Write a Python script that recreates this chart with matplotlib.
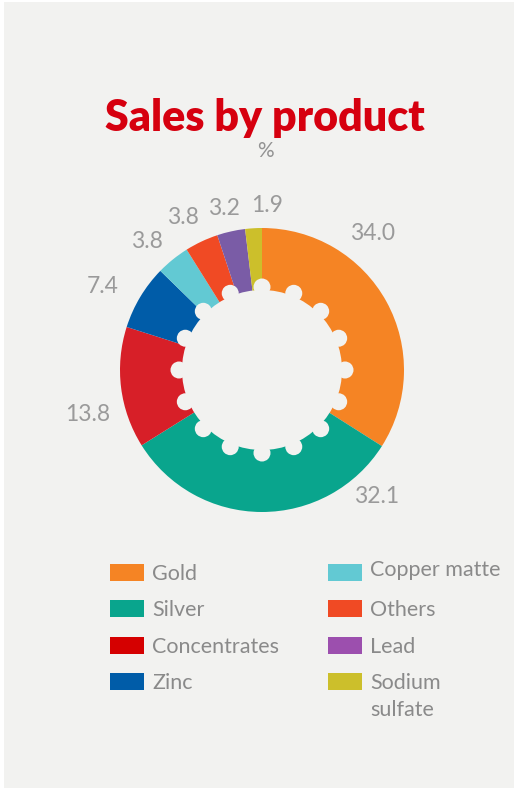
import numpy as np
import matplotlib.pyplot as plt
from matplotlib.patches import Circle, Rectangle

W, H = 514, 788

products = ['Gold', 'Silver', 'Concentrates', 'Zinc',
            'Copper matte', 'Others', 'Lead', 'Sodium sulfate']
shares = [34.0, 32.1, 13.8, 7.4, 3.8, 3.8, 3.2, 1.9]
value_labels = ['34.0', '32.1', '13.8', '7.4', '3.8', '3.8', '3.2', '1.9']

pie_colors = ['#F58424', '#09A58D', '#D71F28', '#005CA8',
              '#62C9D3', '#F04A24', '#7A5CA6', '#CCBF2B']
legend_colors = ['#F58424', '#09A58D', '#D50000', '#005CA8',
                 '#62C9D3', '#F04A24', '#9C4FAE', '#CCBF2B']

# where the value labels sit (pixels, from top-left)
label_pos = [(373, 233), (377, 496), (88, 414), (103, 286),
             (147, 241), (183, 217), (224, 208), (267, 205)]

BG = '#F2F2F0'
GREY = '#9A9A9A'
plt.rcParams['font.family'] = ['Lato', 'DejaVu Sans']


def py(y):
    return H - y


fig = plt.figure(figsize=(W / 100, H / 100), dpi=100, facecolor='white')
ax = fig.add_axes([0, 0, 1, 1])

ax.add_patch(Rectangle((4, 0), W - 4, H - 2, facecolor=BG, edgecolor='none', zorder=0))

cx, cy = 262, py(370)
ax.pie(shares, colors=pie_colors, startangle=90, counterclock=False,
       radius=142, center=(cx, cy), wedgeprops=dict(linewidth=0))

# toothed hole in the middle
ax.add_patch(Circle((cx, cy), 80, facecolor=BG, edgecolor='none', zorder=5))
for a in np.deg2rad(90 - np.arange(16) * 22.5):
    ax.add_patch(Circle((cx + 83 * np.cos(a), cy + 83 * np.sin(a)), 8.5,
                        facecolor=BG, edgecolor='none', zorder=5))

for txt, (x, y) in zip(value_labels, label_pos):
    ax.text(x, py(y), txt, ha='center', va='center', fontsize=16.5,
            color=GREY)

ax.text(265, py(131), 'Sales by product', ha='center', va='baseline',
        fontsize=31, fontweight='heavy', color='#D6000F')
ax.text(265, py(151), '%', ha='center', va='center', fontsize=15,
        color='#939393')

# two-column legend
for i, (name, col) in enumerate(zip(products, legend_colors)):
    column, row = divmod(i, 4)
    x0 = 110 if column == 0 else 328
    yc = 572.5 + row * 36.3
    ax.add_patch(Rectangle((x0, py(yc + 8.5)), 34, 17, facecolor=col, edgecolor='none'))
    name = name.replace('Sodium ', 'Sodium\n')
    dy = -4 if column == 1 and row == 0 else 0
    ax.text(x0 + 42, py(yc - 8.5 + dy), name, ha='left', va='top', fontsize=15.5,
            color='#8A8A8A', linespacing=1.45)

ax.set_xlim(0, W)
ax.set_ylim(0, H)
ax.set_aspect('auto')
ax.axis('off')

fig.savefig('out.png', dpi=100, facecolor='white')
